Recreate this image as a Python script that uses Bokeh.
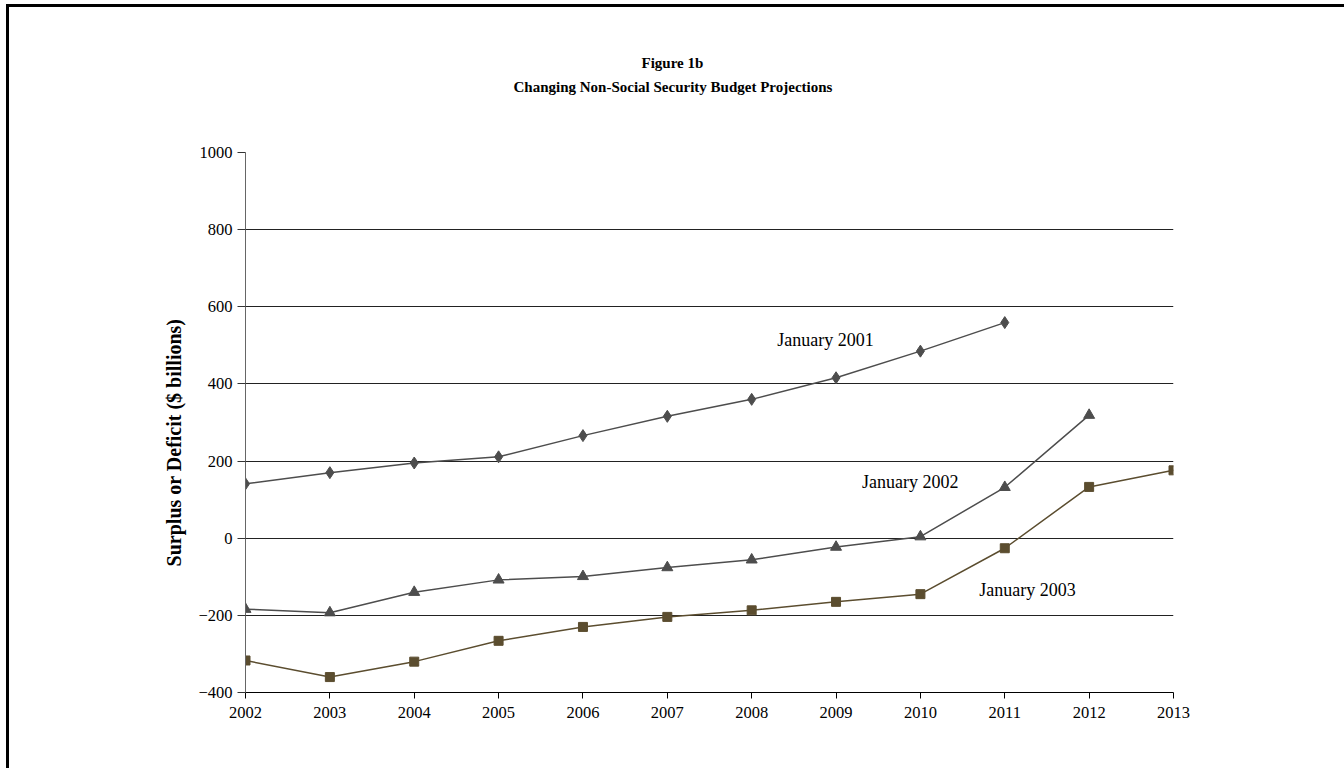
from bokeh.plotting import figure
from bokeh.models import Range1d, Label, FixedTicker, Title
from bokeh.embed import file_html
from bokeh.resources import INLINE

years_2001 = [2002, 2003, 2004, 2005, 2006, 2007, 2008, 2009, 2010, 2011]
jan_2001 = [141, 170, 195, 211, 266, 316, 360, 416, 485, 559]
years_2002 = [2002, 2003, 2004, 2005, 2006, 2007, 2008, 2009, 2010, 2011, 2012]
jan_2002 = [-184, -193, -140, -108, -99, -76, -56, -23, 4, 132, 319]
years_2003 = [2002, 2003, 2004, 2005, 2006, 2007, 2008, 2009, 2010, 2011, 2012, 2013]
jan_2003 = [-317, -360, -320, -266, -230, -204, -187, -165, -145, -26, 133, 176]
x_ticks = list(range(2002, 2014))
y_ticks = [-400, -200, 0, 200, 400, 600, 800, 1000]

SERIF = "Liberation Serif"
GRAY = "#4d4d4d"
OLIVE = "#5b4d2f"

p = figure(width=1335, height=761, output_backend="svg", toolbar_location=None,
           x_range=Range1d(2002, 2013), y_range=Range1d(-400, 1000),
           min_border_left=236, min_border_right=171, min_border_top=145, min_border_bottom=76,
           margin=(7, 0, 0, 9),
           styles={"box-shadow": "0 -3px 0 0 black, -3px 0 0 0 black, -3px -3px 0 0 black"})
p.outline_line_color = None
p.background_fill_color = "white"
p.border_fill_color = "white"

p.xgrid.grid_line_color = None
p.ygrid.grid_line_color = "#222222"
p.ygrid.grid_line_width = 1
p.ygrid.ticker = FixedTicker(ticks=y_ticks)

p.xaxis.ticker = FixedTicker(ticks=x_ticks)
p.yaxis.ticker = FixedTicker(ticks=y_ticks)
for ax in (p.xaxis, p.yaxis):
    ax.major_label_text_font = SERIF
    ax.major_label_text_font_size = "16.5px"
    ax.major_label_text_color = "black"
    ax.minor_tick_line_color = None
    ax.major_tick_in = 0
p.xaxis.axis_line_color = "black"
p.xaxis.major_tick_line_color = "black"
p.xaxis.major_tick_out = 6
p.xaxis.major_label_standoff = 8
p.yaxis.axis_line_color = "#666666"
p.yaxis.major_tick_line_color = "#333333"
p.yaxis.major_tick_out = 8
p.yaxis.major_label_standoff = 5

p.yaxis.axis_label = "Surplus or Deficit ($ billions)\u2003\u2003"
p.yaxis.axis_label_text_font = SERIF
p.yaxis.axis_label_text_font_size = "20px"
p.yaxis.axis_label_text_font_style = "bold"
p.yaxis.axis_label_text_color = "black"
p.yaxis.axis_label_standoff = 10

p.line(years_2001, jan_2001, line_color=GRAY, line_width=1.5)
p.scatter(years_2001, jan_2001, marker="diamond", size=12, fill_color=GRAY, line_color=GRAY)
p.line(years_2002, jan_2002, line_color=GRAY, line_width=1.5)
p.scatter(years_2002, jan_2002, marker="triangle", size=11, fill_color=GRAY, line_color=GRAY)
p.line(years_2003, jan_2003, line_color=OLIVE, line_width=1.5)
p.scatter(years_2003, jan_2003, marker="square", size=9, fill_color=OLIVE, line_color=OLIVE)

def lab(x, y, text):
    p.add_layout(Label(x=x, y=y, text=text, text_font=SERIF, text_font_size="18px",
                       text_color="black", text_align="center", text_baseline="middle"))

lab(2008.875, 515, "January 2001")
lab(2009.88, 146, "January 2002")
lab(2011.27, -134, "January 2003")

# spacer between the title block and the plot frame
p.add_layout(Title(text=" ", text_font_size="1px", standoff=52), "above")
p.add_layout(Title(text="Changing Non-Social Security Budget Projections", align="left",
                   text_font=SERIF, text_font_size="15px", text_font_style="bold",
                   text_color="black", standoff=6, offset=268), "above")
p.add_layout(Title(text="Figure 1b", align="left",
                   text_font=SERIF, text_font_size="15px", text_font_style="bold",
                   text_color="black", standoff=6, offset=396), "above")

open("out.html", "w").write(file_html(p, INLINE))
